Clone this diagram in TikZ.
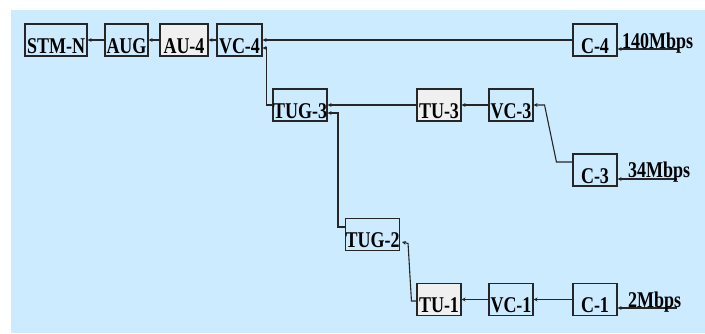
\documentclass[tikz,border=0pt]{standalone}
\usepackage{fontspec}
\setmainfont{Liberation Serif}
\newfontfamily\labelfont[FakeStretch=0.8]{Liberation Serif}
\usetikzlibrary{arrows.meta}
\definecolor{bgblue}{HTML}{CCEBFE}
\definecolor{unitgray}{HTML}{F0F0F0}
\begin{document}
\begin{tikzpicture}[x=1pt,y=-1pt,
  box/.style={draw=black!85,line width=1.1pt,inner sep=0pt,minimum height=32pt,
    text height=29pt,text depth=3pt,font=\labelfont\fontsize{22.5}{24}\selectfont\bfseries},
  unit/.style={box,fill=unitgray},
  arr/.style={draw=black!85,line width=1.1pt,-{Stealth[length=4pt,width=4pt]}},
  rate/.style={font=\labelfont\fontsize{22.5}{24}\selectfont\bfseries,inner sep=0pt,anchor=base west}]
  \useasboundingbox (0,0) rectangle (705,333);
  \fill[bgblue] (11,10) rectangle (705,333);

  % Top row
  \node[box,minimum width=62pt] (stm) at (56,40) {STM-N};
  \node[box,minimum width=43pt] (aug) at (126.5,40) {AUG};
  \node[unit,minimum width=48pt] (au4) at (184,40) {AU-4};
  \node[box,minimum width=45pt] (vc4) at (239.5,40) {VC-4};
  \node[box,minimum width=44pt] (c4) at (595,40) {C-4};

  % Middle row
  \node[box,minimum width=54pt] (tug3) at (300,105) {TUG-3};
  \node[unit,minimum width=44pt] (tu3) at (439,105) {TU-3};
  \node[box,minimum width=44pt] (vc3) at (511,105) {VC-3};
  \node[box,minimum width=44pt] (c3) at (595,170) {C-3};

  % Lower rows
  \node[box,minimum width=53pt] (tug2) at (372.5,234.5) {TUG-2};
  \node[unit,minimum width=44pt] (tu1) at (439,299.5) {TU-1};
  \node[box,minimum width=44pt] (vc1) at (511,299.5) {VC-1};
  \node[box,minimum width=44pt] (c1) at (595,299.5) {C-1};

  % Connectors
  \draw[arr] (aug.west) -- (stm.east);
  \draw[arr] (au4.west) -- (aug.east);
  \draw[arr] (vc4.west) -- (au4.east);
  \draw[arr] (c4.west) -- (vc4.east);
  \draw[arr] (tug3.west) -- ++(-6,0) |- ([yshift=-8pt]vc4.east);
  \draw[arr] (tu3.west) -- (tug3.east);
  \draw[arr] ([yshift=7.5pt]tug2.west) -- ++(-7,0) |- ([yshift=-8pt]tug3.east);
  \draw[arr] (vc3.west) -- (tu3.east);
  \draw[arr] ([yshift=8pt]c3.west) -- ++(-16,0) -- ([xshift=11pt]vc3.east) -- (vc3.east);
  \draw[arr] ([yshift=-1.5pt]tu1.west) -- ++(-5,0) -- ([xshift=8pt,yshift=-9pt]tug2.east)
    -- ([xshift=2pt,yshift=-7.5pt]tug2.east);
  \draw[arr] (vc1.west) -- (tu1.east);
  \draw[arr] (c1.west) -- (vc1.east);

  % Inputs
  \coordinate (in4) at (677,49);
  \coordinate (in3) at (677,179);
  \coordinate (in1) at (677,308);
  \draw[arr] (in4) -- (in4 -| c4.east);
  \draw[arr] (in3) -- (in3 -| c3.east);
  \draw[arr] (in1) -- (in1 -| c1.east);
  \node[rate] (r4) at (622,48) {140Mbps};
  \node[rate] (r3) at (628,177) {34Mbps};
  \node[rate] (r1) at (628,307) {2Mbps};
\end{tikzpicture}
\end{document}
